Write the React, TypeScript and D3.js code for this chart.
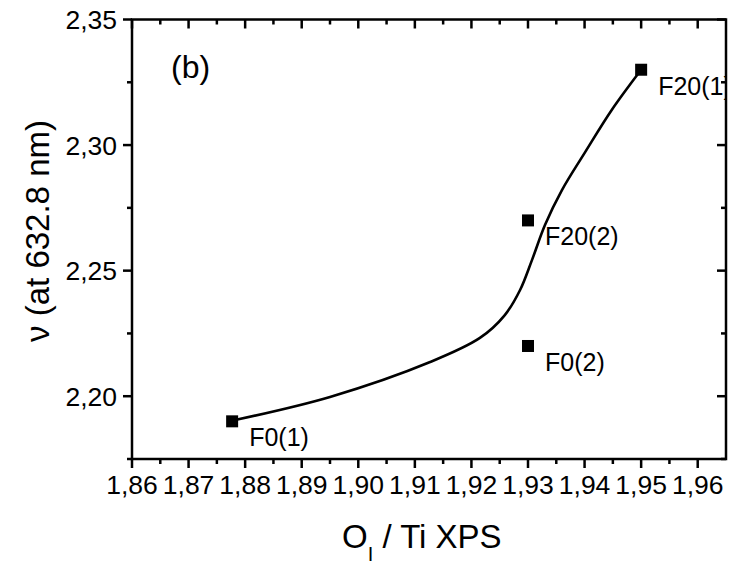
import React from "react";
import * as d3 from "d3";

const samples = ["F0(1)", "F20(1)", "F20(2)", "F0(2)"];
const ratioValues = [1.8777, 1.95, 1.93, 1.93];
const indexValues = [2.19, 2.33, 2.27, 2.22];

const curveX = [1.8782, 1.895, 1.9127, 1.9215, 1.9259, 1.9286, 1.9307, 1.933, 1.936, 1.9401, 1.9448, 1.95];
const curveY = [2.1905, 2.1997, 2.2136, 2.2232, 2.2323, 2.2423, 2.2542, 2.2682, 2.2821, 2.2972, 2.314, 2.33];

const xTicks = [1.86, 1.87, 1.88, 1.89, 1.9, 1.91, 1.92, 1.93, 1.94, 1.95, 1.96];
const yTicks = [2.2, 2.25, 2.3, 2.35];

const FONT = "'Liberation Sans', Arial, Helvetica, sans-serif";

export default function App() {
  const x = d3.scaleLinear().domain([1.86, 1.965]).range([132, 726]);
  const y = d3.scaleLinear().domain([2.175, 2.35]).range([459, 19.5]);
  const [x0, x1] = x.range();
  const [y0, y1] = y.range();

  const xMinor = d3.range(0, 21).map((i) => 1.86 + i * 0.005).filter((v, i) => i % 2 === 1 && v < 1.965);
  const yMinor = [2.175, 2.225, 2.275, 2.325];

  const curvePts: [number, number][] = curveX.map((v, i) => [v, curveY[i]]);
  const line = d3
    .line<[number, number]>()
    .x((d) => x(d[0]))
    .y((d) => y(d[1]))
    .curve(d3.curveCatmullRom.alpha(0.5));

  const fmt = (v: number, n: number) => v.toFixed(n).replace(".", ",");
  const MAJ = 9;
  const MIN = 5;
  const sw = 2.5;

  return (
    <svg width={732} height={567} style={{ position: "absolute", left: 0, top: 0, background: "#fff" }} fontFamily={FONT}>
      <defs>
        <clipPath id="plotclip">
          <rect x={x0} y={0} width={x1 - x0 - 1} height={567} />
        </clipPath>
      </defs>
      <rect x={0} y={0} width={732} height={567} fill="#fff" />

      {/* curve */}
      <path d={line(curvePts) || ""} fill="none" stroke="#000" strokeWidth={2.6} />

      {/* markers */}
      {samples.map((s, i) => (
        <rect key={s} x={x(ratioValues[i]) - 6} y={y(indexValues[i]) - 6} width={12} height={12} fill="#000" />
      ))}
      <g clipPath="url(#plotclip)">
        {samples.map((s, i) => (
          <text key={s} x={x(ratioValues[i]) + 17} y={y(indexValues[i]) + 25} fontSize={25} fill="#000">
            {s}
          </text>
        ))}
      </g>

      {/* frame */}
      <rect x={x0} y={y1} width={x1 - x0} height={y0 - y1} fill="none" stroke="#000" strokeWidth={sw} />

      {/* x ticks */}
      {xTicks.map((t) => (
        <g key={"xt" + t}>
          <line x1={x(t)} x2={x(t)} y1={y0} y2={y0 + MAJ} stroke="#000" strokeWidth={sw} />
          <line x1={x(t)} x2={x(t)} y1={y1} y2={y1 + MAJ} stroke="#000" strokeWidth={sw} />
          <text x={x(t)} y={494} fontSize={26.5} textAnchor="middle" fill="#000">
            {fmt(t, 2)}
          </text>
        </g>
      ))}
      {xMinor.map((t) => (
        <g key={"xm" + t}>
          <line x1={x(t)} x2={x(t)} y1={y0} y2={y0 + MIN} stroke="#000" strokeWidth={sw} />
          <line x1={x(t)} x2={x(t)} y1={y1} y2={y1 + MIN} stroke="#000" strokeWidth={sw} />
        </g>
      ))}

      {/* y ticks */}
      {yTicks.map((t) => (
        <g key={"yt" + t}>
          <line x1={x0 - MAJ} x2={x0} y1={y(t)} y2={y(t)} stroke="#000" strokeWidth={sw} />
          <line x1={x1 - MAJ} x2={x1} y1={y(t)} y2={y(t)} stroke="#000" strokeWidth={sw} />
          <text x={117} y={y(t)} dy="0.36em" fontSize={26.5} textAnchor="end" fill="#000">
            {fmt(t, 2)}
          </text>
        </g>
      ))}
      {yMinor.map((t) => (
        <g key={"ym" + t}>
          <line x1={x0 - MIN} x2={x0} y1={y(t)} y2={y(t)} stroke="#000" strokeWidth={sw} />
          <line x1={x1 - MIN} x2={x1} y1={y(t)} y2={y(t)} stroke="#000" strokeWidth={sw} />
        </g>
      ))}

      {/* panel label */}
      <text x={171} y={78} fontSize={32} fill="#000">(b)</text>

      {/* axis titles */}
      <text x={342} y={548} fontSize={33} fill="#000">
        O<tspan fontSize={20} dy={13}>I</tspan>
        <tspan dy={-13}> / Ti XPS</tspan>
      </text>
      <text transform={`translate(49, 231) rotate(-90)`} fontSize={33} textAnchor="middle" fill="#000">
        ν (at 632.8 nm)
      </text>
    </svg>
  );
}
